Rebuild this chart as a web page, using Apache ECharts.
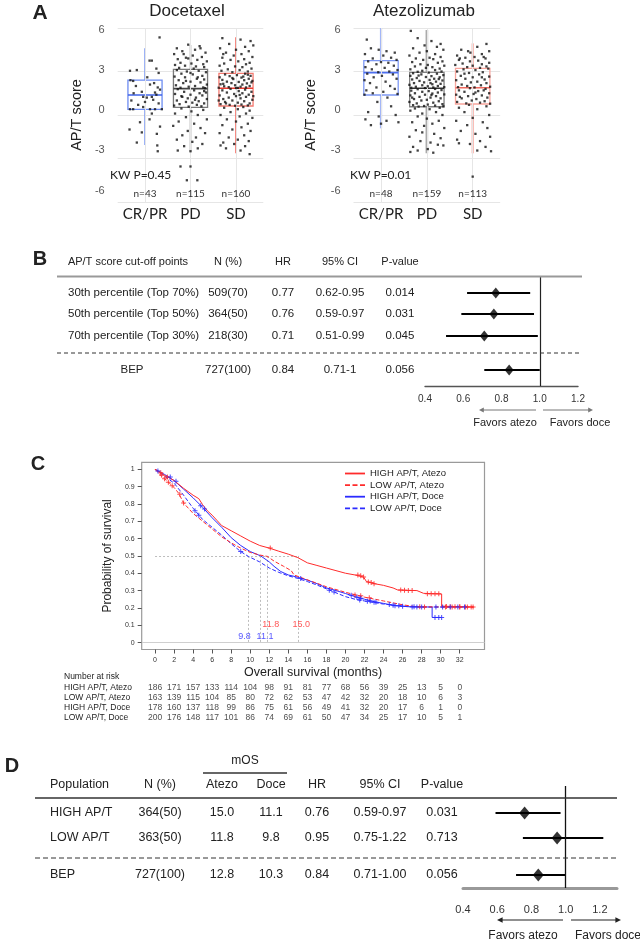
<!DOCTYPE html>
<html><head><meta charset="utf-8">
<script src="https://cdn.jsdelivr.net/npm/echarts@6.0.0/dist/echarts.min.js"></script>
<style>html,body{margin:0;padding:0;background:#fff;}#chart{width:640px;height:944px;}</style>
</head><body><div id="chart"></div>
<script>
// ================= DATA =================
// Panel A
const boxCategories = ['CR/PR', 'PD', 'SD'];
const boxTickLabels = [6, 3, 0, -3, -6];
const doceCounts = ['n=43', 'n=115', 'n=160'];
const atezoCounts = ['n=48', 'n=159', 'n=113'];
const doceKW = 'KW P=0.45';
const atezoKW = 'KW P=0.01';
// [lower whisker, Q1, median, Q3, upper whisker]
const doceBoxStats = [[-2.07, 0.39, 1.38, 2.41, 4.6], [-2.53, 0.53, 1.82, 3.15, 4.83], [-2.64, 0.62, 1.84, 2.87, 5.36]];
const atezoBoxStats = [[-0.92, 1.38, 2.92, 3.75, 6.0], [-2.64, 0.57, 1.84, 2.94, 5.86], [-2.64, 0.76, 1.88, 3.22, 4.94]];
// jittered points: [jitter offset, AP/T score]
const docePtsCRPR = [[0.32,5.35],[0.1,3.75],[0.15,3.75],[-0.33,3.05],[-0.18,3.1],[0.3,2.9],[-0.32,2.4],[-0.26,2.35],[0.11,2.1],[0.33,1.75],[-0.07,1.6],[0.22,1.55],[0.25,1.4],[-0.04,1.25],[0.04,1.2],[0.15,1.25],[0.18,1.05],[0.0,0.9],[-0.04,0.55],[-0.33,0.4],[-0.26,0.4],[0.11,0.4],[0.22,0.4],[0.37,0.4],[0.1,-0.3],[-0.11,-0.5],[-0.34,-1.0],[0.33,-0.8],[0.26,-1.3],[-0.07,-1.2],[0.27,-2.1],[-0.18,-1.9],[0.05,2.6],[-0.2,2.0],[0.28,1.9],[-0.3,1.0],[0.3,0.8],[-0.15,0.7],[-0.25,1.5],[0.2,2.2],[0.25,3.2],[0.28,-2.5],[0.15,0.1]];
const docePtsPD = [[-0.05,4.85],[0.2,4.75],[-0.3,4.6],[0.1,4.5],[-0.18,4.4],[0.33,4.3],[-0.36,4.2],[0.05,4.1],[0.25,4.0],[-0.1,3.95],[-0.28,3.85],[0.15,3.8],[0.36,3.7],[-0.22,3.6],[0.02,3.55],[0.28,3.5],[-0.34,3.45],[-0.12,3.4],[0.12,3.35],[0.3,3.3],[-0.25,3.25],[0.07,3.2],[-0.05,3.9],[0.22,4.6],[-0.15,4.2],
[-0.3,3.1],[0.18,3.05],[-0.08,3.0],[0.34,2.95],[-0.2,2.85],[0.05,2.8],[0.26,2.7],[-0.35,2.65],[-0.12,2.6],[0.14,2.5],[0.3,2.45],[-0.26,2.4],[0.0,2.3],[0.22,2.25],[-0.16,2.2],[0.36,2.1],[-0.32,2.05],[0.1,2.0],[-0.04,1.95],[0.28,1.9],[-0.22,1.88],[0.16,2.6],[-0.1,2.35],[0.32,1.85],[0.0,2.9],
[-0.28,1.78],[0.08,1.7],[0.3,1.65],[-0.14,1.6],[0.2,1.5],[-0.34,1.45],[0.0,1.4],[0.26,1.35],[-0.2,1.3],[0.12,1.2],[-0.06,1.15],[0.36,1.1],[-0.3,1.0],[0.18,0.95],[-0.1,0.9],[0.04,0.85],[0.3,0.8],[-0.24,0.75],[0.14,0.7],[-0.36,0.65],[0.24,0.6],[-0.04,0.58],[0.1,1.05],[-0.18,1.25],[0.34,1.55],
[-0.2,0.45],[0.28,0.35],[0.02,0.25],[-0.34,0.1],[0.16,0.0],[-0.1,-0.15],[0.36,-0.3],[-0.26,-0.45],[0.08,-0.6],[-0.38,-0.75],[0.22,-0.9],[-0.06,-1.1],[0.32,-1.25],[-0.18,-1.4],[0.12,-1.55],[-0.3,-1.7],[0.04,-1.85],[0.26,-2.0],[-0.14,-2.15],[0.16,-2.3],[-0.28,-2.45],[0.0,-2.5],
[-0.22,-3.55],[0.0,-3.55],[-0.08,-4.5],[0.15,-4.5]];
const docePtsSD = [[-0.3,5.3],[0.1,5.2],[0.32,5.1],[-0.15,4.9],[0.2,4.7],[-0.35,4.6],[0.0,4.5],[0.28,4.4],[-0.22,4.3],[0.12,4.2],[-0.05,4.1],[0.36,4.0],[-0.3,3.95],[0.18,3.85],[-0.12,3.8],[0.05,3.7],[0.3,3.6],[-0.26,3.55],[0.22,3.5],[-0.36,3.4],[-0.02,3.35],[0.14,3.3],[0.34,3.2],[-0.18,3.15],[0.08,3.1],[-0.32,3.05],[0.26,3.0],[-0.08,2.95],[0.38,4.8],[-0.28,4.2],
[0.2,2.85],[-0.24,2.8],[0.02,2.75],[0.32,2.7],[-0.14,2.68],[-0.36,2.6],[0.12,2.58],[0.28,2.5],[-0.06,2.48],[-0.3,2.42],[0.18,2.4],[0.36,2.35],[-0.2,2.3],[0.06,2.28],[-0.1,2.2],[0.24,2.18],[-0.34,2.12],[0.14,2.1],[-0.02,2.05],[0.3,2.0],[-0.26,1.98],[0.1,1.95],[-0.16,1.92],[0.22,1.9],[-0.38,1.88],[0.04,1.87],[0.34,2.25],[-0.08,2.55],[0.16,2.65],[-0.28,2.15],[0.0,1.86],[0.26,2.78],
[-0.12,1.8],[0.2,1.75],[-0.3,1.7],[0.06,1.65],[0.34,1.6],[-0.2,1.55],[0.14,1.5],[-0.04,1.45],[0.28,1.4],[-0.36,1.35],[0.0,1.3],[0.22,1.25],[-0.16,1.2],[0.1,1.15],[-0.28,1.1],[0.36,1.05],[-0.08,1.0],[0.18,0.95],[-0.24,0.9],[0.04,0.85],[0.3,0.8],[-0.34,0.75],[0.12,0.72],[-0.14,0.7],[0.26,0.66],[-0.02,0.64],[0.38,1.3],[-0.38,1.0],[0.08,1.38],[-0.22,0.8],
[0.16,0.55],[-0.26,0.5],[0.04,0.4],[0.3,0.3],[-0.12,0.2],[0.22,0.1],[-0.34,0.0],[0.08,-0.1],[0.36,-0.2],[-0.2,-0.3],[0.0,-0.45],[0.26,-0.6],[-0.3,-0.7],[0.12,-0.85],[-0.08,-1.0],[0.32,-1.1],[-0.36,-1.25],[0.18,-1.4],[-0.16,-1.55],[0.04,-1.7],[0.28,-1.8],[-0.28,-1.9],[-0.04,-2.0],[0.2,-2.15],[-0.22,-2.3],[0.1,-2.45],[0.3,-2.7],[-0.34,-2.1]];
const atezoPtsCRPR = [[-0.31,5.2],[-0.22,4.6],[-0.05,4.5],[0.12,4.4],[0.3,4.3],[-0.35,4.2],[0.05,4.1],[0.22,3.95],[-0.18,3.9],[0.34,3.8],[-0.28,3.7],[0.0,3.65],[0.16,3.6],[-0.1,3.5],[0.28,3.4],[-0.34,3.3],[0.08,3.25],[-0.2,3.15],[0.36,3.1],[0.18,3.0],[-0.06,2.95],[-0.3,2.85],[0.26,2.8],[0.02,2.7],[-0.16,2.6],[0.34,2.5],[-0.36,2.4],[0.1,2.3],[-0.24,2.2],[0.2,2.0],[-0.1,1.9],[0.3,1.8],[-0.32,1.7],[0.05,1.6],[-0.18,1.5],[0.36,1.45],[-0.36,1.4],[0.14,1.2],[-0.08,0.9],[0.22,0.6],[-0.28,0.2],[0.32,0.0],[-0.05,-0.1],[-0.34,-0.3],[0.12,-0.4],[0.38,-0.5],[-0.22,-0.7],[0.0,-0.6]];
const atezoPtsPD = [[-0.35,5.8],[-0.2,5.3],[0.1,5.1],[0.3,4.9],[-0.05,4.8],[0.22,4.7],[-0.3,4.6],[0.36,4.5],[0.0,4.4],[-0.16,4.3],[0.18,4.2],[-0.38,4.1],[0.3,4.0],[0.06,3.95],[-0.24,3.9],[0.14,3.85],[-0.08,3.8],[0.34,3.7],[-0.32,3.65],[0.24,3.6],[-0.14,3.5],[0.02,3.45],[0.38,3.4],[-0.26,3.35],[0.12,3.3],[-0.02,3.25],[0.28,3.2],[-0.36,3.15],[0.18,3.1],[-0.1,3.05],[0.32,3.0],[-0.2,2.98],
[0.04,2.92],[-0.3,2.88],[0.22,2.85],[-0.12,2.8],[0.36,2.75],[-0.36,2.7],[0.1,2.68],[-0.02,2.62],[0.28,2.6],[-0.22,2.55],[0.16,2.5],[-0.32,2.45],[0.06,2.42],[0.34,2.38],[-0.16,2.35],[0.2,2.3],[-0.06,2.25],[-0.28,2.2],[0.3,2.15],[0.12,2.12],[-0.38,2.08],[-0.1,2.05],[0.24,2.0],[0.02,1.98],[-0.24,1.95],[0.38,1.92],[0.14,1.9],[-0.34,1.88],[-0.04,1.86],[0.26,2.48],[-0.18,2.72],[0.08,2.2],
[0.18,1.8],[-0.2,1.78],[0.32,1.72],[-0.34,1.68],[0.04,1.65],[-0.1,1.6],[0.24,1.55],[-0.26,1.5],[0.12,1.48],[0.38,1.42],[-0.04,1.4],[-0.36,1.35],[0.2,1.3],[-0.16,1.25],[0.08,1.2],[0.3,1.15],[-0.28,1.1],[0.0,1.05],[-0.12,1.0],[0.26,0.95],[-0.38,0.9],[0.14,0.85],[-0.22,0.8],[0.34,0.75],[0.02,0.72],[-0.3,0.68],[0.18,0.65],[-0.06,0.62],[0.36,0.6],[-0.18,0.58],[0.1,1.38],[-0.32,1.2],
[0.28,0.5],[-0.26,0.45],[0.06,0.4],[-0.36,0.3],[0.2,0.2],[-0.1,0.1],[0.34,0.0],[-0.2,-0.1],[0.0,-0.25],[0.26,-0.4],[-0.32,-0.5],[0.12,-0.6],[-0.06,-0.75],[0.38,-0.9],[-0.24,-1.05],[0.16,-1.3],[-0.38,-1.5],[0.3,-1.6],[-0.14,-1.8],[0.08,-1.9],[0.24,-2.05],[-0.3,-2.2],[0.02,-2.35],[-0.2,-2.45],[0.36,-2.1],[-0.36,-2.55],[0.14,-2.6],[-0.1,-1.2]];
const atezoPtsSD = [[0.3,4.9],[0.1,4.7],[-0.25,4.5],[0.36,4.4],[-0.05,4.3],[0.2,4.2],[-0.34,4.1],[0.04,4.0],[-0.16,3.95],[0.28,3.9],[-0.3,3.8],[0.12,3.75],[-0.06,3.7],[0.36,3.6],[-0.22,3.55],[0.2,3.5],[-0.38,3.45],[0.0,3.4],[0.3,3.35],[-0.12,3.3],[0.16,3.25],[-0.28,3.9],[0.24,4.0],[-0.1,4.4],
[0.34,3.2],[-0.2,3.15],[0.06,3.1],[-0.34,3.0],[0.22,2.95],[-0.08,2.9],[0.14,2.8],[-0.26,2.7],[0.36,2.65],[0.0,2.6],[-0.16,2.5],[0.26,2.45],[-0.36,2.4],[0.1,2.3],[-0.04,2.25],[0.3,2.2],[-0.24,2.1],[0.18,2.05],[-0.12,2.0],[0.38,1.95],[-0.32,1.92],[0.04,1.9],[0.2,2.6],[-0.18,2.85],
[-0.06,1.85],[0.28,1.8],[-0.3,1.7],[0.12,1.65],[-0.18,1.6],[0.36,1.5],[0.02,1.45],[-0.36,1.4],[0.2,1.35],[-0.1,1.3],[0.32,1.2],[-0.24,1.15],[0.08,1.1],[-0.02,1.0],[0.26,0.95],[-0.34,0.9],[0.16,0.85],[-0.14,0.8],[0.38,0.78],[-0.28,1.25],[0.06,1.55],[0.24,1.7],
[-0.08,0.7],[0.3,0.6],[-0.3,0.5],[0.1,0.4],[-0.18,0.2],[0.36,0.0],[0.0,-0.2],[-0.36,-0.4],[0.22,-0.5],[-0.12,-0.7],[0.32,-0.9],[-0.26,-1.1],[0.06,-1.3],[0.38,-1.5],[-0.34,-1.7],[0.16,-1.8],[-0.06,-2.0],[0.28,-2.2],[-0.3,-1.95],[0.1,-2.45],[0.4,-2.5],[0.0,-4.25]];

// Panel B
const bLabels = ['30th percentile (Top 70%)', '50th percentile (Top 50%)', '70th percentile (Top 30%)', 'BEP'];
const bN = ['509(70)', '364(50)', '218(30)', '727(100)'];
const bHR = [0.77, 0.76, 0.71, 0.84];
const bLow = [0.62, 0.59, 0.51, 0.71];
const bHigh = [0.95, 0.97, 0.99, 1.0];
const bCI = ['0.62-0.95', '0.59-0.97', '0.51-0.99', '0.71-1'];
const bP = ['0.014', '0.031', '0.045', '0.056'];
const bHeaders = ['AP/T score cut-off points', 'N (%)', 'HR', '95% CI', 'P-value'];

// Panel C
const kmNames = ['HIGH AP/T, Atezo', 'LOW AP/T, Atezo', 'HIGH AP/T, Doce', 'LOW AP/T, Doce'];
const kmHighAtezo = [[0,1],[1,0.965],[2,0.935],[3,0.89],[4,0.85],[4.6,0.83],[5,0.795],[5.5,0.76],[6,0.735],[6.5,0.705],[7,0.675],[8,0.645],[9,0.615],[10,0.585],[11,0.56],[12,0.545],[13,0.527],[14,0.51],[15,0.49],[16,0.46],[17,0.445],[18,0.43],[19,0.415],[20,0.4],[21,0.39],[21.9,0.378],[22.2,0.352],[23,0.34],[24,0.33],[25,0.315],[25.5,0.303],[27.5,0.3],[28.2,0.284],[30.1,0.28],[30.1,0.21],[33.5,0.205]];
const kmLowAtezo = [[0,1],[0.5,0.97],[1,0.945],[1.5,0.92],[2,0.895],[2.5,0.86],[3,0.805],[3.5,0.775],[4,0.745],[5,0.7],[6,0.655],[7,0.61],[8,0.575],[9,0.545],[10,0.52],[11,0.505],[11.8,0.497],[12.5,0.47],[13.5,0.44],[14.3,0.415],[14.6,0.39],[15.5,0.372],[16.5,0.352],[18,0.322],[20,0.29],[22,0.262],[24,0.24],[26,0.218],[27.5,0.206],[33.4,0.205]];
const kmHighDoce = [[0,1],[1,0.97],[2,0.935],[3,0.885],[4,0.835],[5,0.78],[6,0.72],[7,0.665],[8,0.605],[9,0.56],[10,0.525],[11.1,0.5],[12,0.465],[12.5,0.44],[13.2,0.41],[14,0.39],[15,0.377],[16,0.36],[17,0.34],[18,0.315],[19,0.3],[20,0.283],[21,0.265],[22,0.25],[23,0.236],[24,0.226],[25,0.215],[26.5,0.207],[29.1,0.205],[29.1,0.145],[30.1,0.145]];
const kmLowDoce = [[0,1],[1,0.96],[2,0.92],[3,0.85],[4,0.775],[5,0.71],[6,0.665],[7,0.62],[8,0.57],[9,0.525],[9.8,0.497],[11,0.465],[12,0.43],[13,0.405],[14,0.385],[15,0.37],[16,0.352],[17,0.332],[18,0.31],[19,0.287],[20,0.265],[21,0.25],[22,0.24],[24,0.222],[26,0.21],[28,0.205],[33.1,0.205]];
const censorHighAtezo = [[0.6,0.98],[1.3,0.955],[12.1,0.545],[21.3,0.39],[21.6,0.385],[21.9,0.378],[22.4,0.35],[22.7,0.346],[23.0,0.34],[25.8,0.303],[26.2,0.302],[26.6,0.301],[27.0,0.3],[28.6,0.282],[29.0,0.282],[29.4,0.282],[29.8,0.282],[30.6,0.208],[31.0,0.207],[31.5,0.207],[32.0,0.206],[32.6,0.205],[33.2,0.205]];
const censorLowAtezo = [[0.7,0.965],[1.0,0.945],[1.4,0.925],[1.8,0.905],[2.6,0.855],[3.0,0.805],[21.0,0.275],[21.6,0.27],[22.5,0.258],[27.8,0.206],[28.3,0.205],[30.5,0.205],[31.2,0.205],[32.0,0.205],[32.8,0.205],[33.4,0.205]];
const censorHighDoce = [[1.6,0.955],[2.2,0.93],[4.8,0.79],[5.2,0.77],[20.6,0.273],[21.2,0.262],[21.6,0.256],[22.6,0.24],[23.2,0.233],[24.6,0.22],[25.2,0.213],[26.0,0.21],[27.0,0.205],[27.5,0.205],[29.4,0.145],[29.8,0.145],[30.1,0.145]];
const censorLowDoce = [[0.3,0.99],[4.2,0.76],[4.6,0.735],[9.0,0.525],[15.3,0.37],[18.3,0.302],[18.8,0.292],[21.5,0.246],[22.3,0.238],[23.0,0.232],[25.0,0.216],[25.6,0.212],[27.2,0.207],[28.0,0.205],[29.5,0.205],[30.2,0.205],[31.0,0.205],[31.8,0.205],[32.5,0.205]];
const mediansAtezo = [11.8, 15.0];
const mediansDoce = [9.8, 11.1];
const kmTickTimes = [0,2,4,6,8,10,12,14,16,18,20,22,24,26,28,30,32];
const kmTickSurv = [0,0.1,0.2,0.3,0.4,0.5,0.6,0.7,0.8,0.9,1];
const riskTimes = [0,2,4,6,8,10,12,14,16,18,20,22,24,26,28,30,32];
const riskHighAtezo = [186,171,157,133,114,104,98,91,81,77,68,56,39,25,13,5,0];
const riskLowAtezo = [163,139,115,104,85,80,72,62,53,47,42,32,20,18,10,6,3];
const riskHighDoce = [178,160,137,118,99,86,75,61,56,49,41,32,20,17,6,1,0];
const riskLowDoce = [200,176,148,117,101,86,74,69,61,50,47,34,25,17,10,5,1];

// Panel D
const dPop = ['HIGH AP/T', 'LOW AP/T', 'BEP'];
const dN = ['364(50)', '363(50)', '727(100)'];
const dAtezo = ['15.0', '11.8', '12.8'];
const dDoce = ['11.1', '9.8', '10.3'];
const dHR = [0.76, 0.95, 0.84];
const dLow = [0.59, 0.75, 0.71];
const dHigh = [0.97, 1.22, 1.00];
const dCI = ['0.59-0.97', '0.75-1.22', '0.71-1.00'];
const dP = ['0.031', '0.713', '0.056'];
const dHeaders = ['Population', 'N (%)', 'Atezo', 'Doce', 'HR', '95% CI', 'P-value'];

// ================= LAYOUT / STYLE =================
const SANS = '"Liberation Sans", Arial, sans-serif';
const CAL = 'Lato, "Liberation Sans", sans-serif';
const RED = '#ff2b2b', BLUE = '#2b2bff';
const GA = {left: 117.7, top: 28, width: 145.6, height: 174};
const GB = {left: 353.5, top: 28, width: 146.7, height: 174};
const labelAxisRange = [-6.86, 6.13];   // tick-label scale of panel A as drawn in the source
const doceStyle = [
  {box: '#6d8cf2', med: '#3f63e8', wh: '#7b98f3', ww: 1.5},
  {box: '#7a7a7a', med: '#444444', wh: '#8a8a8a', ww: 1.5},
  {box: '#f47a70', med: '#ee3b30', wh: '#f26358', ww: 1.5}];
const atezoStyle = [
  {box: '#7d98f4', med: '#4d6ff0', wh: '#a3b6f7', ww: 2.2},
  {box: '#808080', med: '#333333', wh: '#ababab', ww: 2.6},
  {box: '#f9a59c', med: '#f26a5f', wh: '#f9aca4', ww: 2.2}];
const FB = {left: 425, top: 276.5, width: 153, height: 109.5};
const bRowY = [293, 314, 336, 370];
const bColX = [128, 228, 283, 340, 400];
const KM = {left: 141.7, top: 462.3, width: 342.8, height: 187.2};
const RISK = {top: 683, height: 40};
const FD = {left: 463, top: 786, width: 154, height: 102};
const dRowY = [813, 838, 875];
const dColX = [50, 160, 222, 271, 317, 380, 442];

// ================= HELPERS =================
function T(text, x, y, size, o) {
  o = o || {};
  return {type: 'text', x: x, y: y, silent: true, z: 50,
    style: {text: text, fill: o.color || '#222', fontSize: size, fontFamily: o.font || SANS,
      fontWeight: o.weight || 'normal', align: o.align || 'center', verticalAlign: 'middle'}};
}
function L(x1, y1, x2, y2, color, w, dash) {
  return {type: 'line', silent: true, z: 40, shape: {x1: x1, y1: y1, x2: x2, y2: y2},
    style: {stroke: color, lineWidth: w, lineDash: dash || null}};
}
function arrow(x1, x2, y, color, w, head) {
  const dir = x2 < x1 ? -1 : 1;
  return [L(x1, y, x2 - dir * head, y, color, w),
    {type: 'polygon', silent: true, z: 40, shape: {points: [[x2, y], [x2 - dir * head * 1.6, y - head * 0.8], [x2 - dir * head * 1.6, y + head * 0.8]]}, style: {fill: color}}];
}
function boxRenderer(styles) {
  return function (params, api) {
    const s = styles[params.dataIndex];
    const x = api.value(0);
    const P = k => api.coord([x, api.value(k)]);
    const pMin = P(1), pQ1 = P(2), pMed = P(3), pQ3 = P(4), pMax = P(5);
    const hw = api.size([0.75, 0])[0] / 2;
    return {type: 'group', children: [
      {type: 'line', shape: {x1: pMin[0], y1: pMin[1], x2: pQ1[0], y2: pQ1[1]}, style: {stroke: s.wh, lineWidth: s.ww}},
      {type: 'line', shape: {x1: pQ3[0], y1: pQ3[1], x2: pMax[0], y2: pMax[1]}, style: {stroke: s.wh, lineWidth: s.ww}},
      {type: 'rect', shape: {x: pQ1[0] - hw, y: pQ3[1], width: 2 * hw, height: pQ1[1] - pQ3[1]}, style: {fill: 'none', stroke: s.box, lineWidth: 1.3}},
      {type: 'line', shape: {x1: pMed[0] - hw, y1: pMed[1], x2: pMed[0] + hw, y2: pMed[1]}, style: {stroke: s.med, lineWidth: 1.6}}
    ]};
  };
}
function ciRenderer(lw) {
  return function (params, api) {
    const p1 = api.coord([api.value(0), api.value(2)]);
    const p2 = api.coord([api.value(1), api.value(2)]);
    return {type: 'line', shape: {x1: p1[0], y1: p1[1], x2: p2[0], y2: p2[1]}, style: {stroke: '#000', lineWidth: lw}};
  };
}
const catX = (g, i) => g.left + (i + 1 - 0.4) * g.width / 3.2;

// ================= AXES =================
function boxXAxis(gi) {
  return {gridIndex: gi, type: 'value', min: 0.4, max: 3.6,
    axisLine: {show: false, onZero: false}, axisTick: {show: false}, splitLine: {show: false},
    axisLabel: {customValues: [1, 2, 3], formatter: v => boxCategories[Math.round(v) - 1],
      fontSize: 15, fontFamily: CAL, color: '#222', margin: 5}};
}
function boxYAxis(gi, gap) {
  return {gridIndex: gi, type: 'value', min: -6, max: 6, interval: 3,
    name: 'AP/T score', nameLocation: 'middle', nameGap: gap,
    nameTextStyle: {fontSize: 14.5, fontFamily: SANS, color: '#222'},
    axisLine: {show: false, onZero: false}, axisTick: {show: false},
    splitLine: {lineStyle: {color: '#e6e6e6', width: 1}},
    axisLabel: {show: false}};
}
function boxLabelAxis(gi) {
  return {gridIndex: gi, type: 'value', position: 'left', min: labelAxisRange[0], max: labelAxisRange[1],
    axisLine: {show: false, onZero: false}, axisTick: {show: false}, splitLine: {show: false},
    axisLabel: {customValues: boxTickLabels, fontSize: 11, fontFamily: SANS, color: '#555', margin: 13}};
}
const vGrid = {silent: true, symbol: ['none', 'none'], label: {show: false},
  lineStyle: {color: '#e6e6e6', width: 1, type: 'solid'}, data: [{xAxis: 1}, {xAxis: 2}, {xAxis: 3}], animation: false};

const xAxes = [
  boxXAxis(0), boxXAxis(1),
  {gridIndex: 2, type: 'value', position: 'bottom', min: 0.4, max: 1.2, interval: 0.2,
    axisLine: {onZero: false, lineStyle: {color: '#555', width: 1.4}}, axisTick: {show: false}, splitLine: {show: false},
    axisLabel: {formatter: v => v.toFixed(1), fontSize: 10, fontFamily: SANS, color: '#333', margin: 8}},
  {gridIndex: 3, type: 'value', position: 'bottom', min: -1.4, max: 34.6,
    name: 'Overall survival (months)', nameLocation: 'middle', nameGap: 17,
    nameTextStyle: {fontSize: 12.5, fontFamily: SANS, color: '#222'},
    axisLine: {show: false, onZero: false}, splitLine: {show: false},
    axisTick: {show: true, customValues: kmTickTimes, length: 4, lineStyle: {color: '#555'}},
    axisLabel: {customValues: kmTickTimes, fontSize: 7, fontFamily: SANS, color: '#333', margin: 7}},
  {gridIndex: 4, type: 'value', min: -1.4, max: 34.6, show: false},
  {gridIndex: 5, type: 'value', position: 'bottom', min: 0.4, max: 1.3, interval: 0.2,
    axisLine: {onZero: false, lineStyle: {color: '#999', width: 3}}, axisTick: {show: false}, splitLine: {show: false},
    axisLabel: {formatter: v => v.toFixed(1), showMaxLabel: false, fontSize: 11, fontFamily: SANS, color: '#333', margin: 16}}
];
const yAxes = [
  boxYAxis(0, 33), boxYAxis(1, 35),
  {gridIndex: 2, type: 'value', inverse: true, min: 0, max: FB.height, show: false},
  {gridIndex: 3, type: 'value', position: 'left', min: -0.04, max: 1.04,
    name: 'Probability of survival', nameLocation: 'middle', nameGap: 27,
    nameTextStyle: {fontSize: 12, fontFamily: SANS, color: '#222'},
    axisLine: {show: false, onZero: false}, splitLine: {show: false},
    axisTick: {show: true, customValues: kmTickSurv, length: 4, lineStyle: {color: '#555'}},
    axisLabel: {customValues: kmTickSurv, formatter: v => (v === 0 ? '0' : v === 1 ? '1' : v.toFixed(1)),
      fontSize: 7, fontFamily: SANS, color: '#333', margin: 7}},
  {gridIndex: 4, type: 'category', inverse: true, data: kmNames,
    axisLine: {show: false, onZero: false}, axisTick: {show: false}, splitLine: {show: false},
    axisLabel: {interval: 0, align: 'left', margin: KM.left - 64, fontSize: 8.5, fontFamily: SANS, color: '#222'}},
  {gridIndex: 5, type: 'value', inverse: true, min: 0, max: FD.height, show: false},
  boxLabelAxis(0), boxLabelAxis(1)
];
const grids = [
  {left: GA.left, top: GA.top, width: GA.width, height: GA.height},
  {left: GB.left, top: GB.top, width: GB.width, height: GB.height},
  {left: FB.left, top: FB.top, width: FB.width, height: FB.height},
  {left: KM.left, top: KM.top, width: KM.width, height: KM.height, show: true, borderColor: '#9a9a9a', borderWidth: 1.2, backgroundColor: 'transparent'},
  {left: KM.left, top: RISK.top, width: KM.width, height: RISK.height},
  {left: FD.left, top: FD.top, width: FD.width, height: FD.height}
];

// ================= SERIES =================
const series = [];
function addBoxPanel(gi, stats, styles, ptsGroups) {
  series.push({type: 'custom', xAxisIndex: gi, yAxisIndex: gi, renderItem: boxRenderer(styles),
    data: stats.map((s, i) => [i + 1].concat(s)), encode: {x: 0, y: [1, 2, 3, 4, 5]}, z: 2, silent: true, markLine: vGrid});
  ptsGroups.forEach((pts, i) => {
    series.push({type: 'scatter', xAxisIndex: gi, yAxisIndex: gi, symbol: 'rect', symbolSize: 2.3,
      itemStyle: {color: '#111'}, z: 5, silent: true, data: pts.map(p => [i + 1 + p[0], p[1]])});
  });
}
addBoxPanel(0, doceBoxStats, doceStyle, [docePtsCRPR, docePtsPD, docePtsSD]);
addBoxPanel(1, atezoBoxStats, atezoStyle, [atezoPtsCRPR, atezoPtsPD, atezoPtsSD]);
// empty series so the tick-label axes are bound to their grids
series.push({type: 'scatter', xAxisIndex: 0, yAxisIndex: 6, data: [], silent: true});
series.push({type: 'scatter', xAxisIndex: 1, yAxisIndex: 7, data: [], silent: true});

// Panel B forest
series.push({type: 'custom', xAxisIndex: 2, yAxisIndex: 2, renderItem: ciRenderer(1.8), silent: true,
  data: bHR.map((h, i) => [bLow[i], bHigh[i], bRowY[i] - FB.top]), encode: {x: [0, 1], y: 2},
  markLine: {silent: true, symbol: ['none', 'none'], label: {show: false}, lineStyle: {color: '#222', width: 1.2, type: 'solid'}, data: [{xAxis: 1.0}]}});
series.push({type: 'scatter', xAxisIndex: 2, yAxisIndex: 2, symbol: 'diamond', symbolSize: [9, 11], itemStyle: {color: '#000'}, silent: true,
  data: bHR.map((h, i) => [h, bRowY[i] - FB.top]), z: 6});

// Panel C KM
const kmSets = [kmHighAtezo, kmLowAtezo, kmHighDoce, kmLowDoce];
const kmCensor = [censorHighAtezo, censorLowAtezo, censorHighDoce, censorLowDoce];
const kmColor = [RED, RED, BLUE, BLUE];
const kmDash = ['solid', [4, 2], 'solid', [4, 2]];
const plusPath = 'path://M4,0H6V4H10V6H6V10H4V6H0V4H4Z';
const iconSolid = 'path://M0,0L0,0M20,10L20,10M0,4.1H20V5.9H0Z';
const iconDash = 'path://M0,0L0,0M20,10L20,10M0,4.1H5V5.9H0ZM7.5,4.1H12.5V5.9H7.5ZM15,4.1H20V5.9H15Z';
const medianLines = [];
const allMedians = mediansAtezo.concat(mediansDoce);
const medMax = Math.max.apply(null, allMedians);
medianLines.push([{coord: [0, 0.5]}, {coord: [medMax, 0.5]}]);
allMedians.forEach(m => medianLines.push([{coord: [m, 0.5]}, {coord: [m, 0]}]));
kmSets.forEach((d, i) => {
  const s = {type: 'line', name: kmNames[i], xAxisIndex: 3, yAxisIndex: 3, data: d, symbol: 'none', showSymbol: false,
    lineStyle: {color: kmColor[i], width: 1, type: kmDash[i]}, itemStyle: {color: kmColor[i]}, silent: true, z: 4 - i * 0.1};
  if (i === 0) {
    s.markLine = {silent: true, symbol: ['none', 'none'], label: {show: false}, z: 1,
      lineStyle: {color: '#bdbdbd', width: 1, type: [2, 2]},
      data: medianLines.concat([{yAxis: 0, lineStyle: {color: '#cfcfcf', type: 'solid', width: 1}}])};
  }
  series.push(s);
  series.push({type: 'scatter', name: 'censor' + i, xAxisIndex: 3, yAxisIndex: 3, data: kmCensor[i], symbol: plusPath, symbolSize: 5,
    itemStyle: {color: kmColor[i], opacity: 0.85}, silent: true, z: 4});
});
const medLabelOffsets = {atezo: [[0.35, 0.104], [0.35, 0.104]], doce: [[-0.4, 0.036], [0.45, 0.036]]};
series.push({type: 'scatter', xAxisIndex: 3, yAxisIndex: 3, symbolSize: 0, silent: true, z: 6,
  data: mediansAtezo.map((m, i) => ({value: [m + medLabelOffsets.atezo[i][0], medLabelOffsets.atezo[i][1]], name: m.toFixed(1)}))
    .concat(mediansDoce.map((m, i) => ({value: [m + medLabelOffsets.doce[i][0], medLabelOffsets.doce[i][1]], name: m.toFixed(1),
      label: {color: BLUE}}))),
  label: {show: true, position: 'inside', formatter: p => p.name, color: RED, fontSize: 9, fontFamily: SANS}});

// risk table
const riskRows = [riskHighAtezo, riskLowAtezo, riskHighDoce, riskLowDoce];
const riskData = [];
riskRows.forEach((row, r) => row.forEach((n, i) => riskData.push([riskTimes[i], r, n])));
series.push({type: 'scatter', xAxisIndex: 4, yAxisIndex: 4, symbolSize: 0, silent: true, data: riskData,
  label: {show: true, position: 'inside', formatter: p => String(p.value[2]), fontSize: 8.5, fontFamily: SANS, color: '#222'}});

// Panel D forest
series.push({type: 'custom', xAxisIndex: 5, yAxisIndex: 5, renderItem: ciRenderer(2.2), silent: true,
  data: dHR.map((h, i) => [dLow[i], dHigh[i], dRowY[i] - FD.top]), encode: {x: [0, 1], y: 2},
  markLine: {silent: true, symbol: ['none', 'none'], label: {show: false}, lineStyle: {color: '#111', width: 1.3, type: 'solid'}, data: [{xAxis: 1.0}]}});
series.push({type: 'scatter', xAxisIndex: 5, yAxisIndex: 5, symbol: 'diamond', symbolSize: [11, 13], itemStyle: {color: '#000'}, silent: true,
  data: dHR.map((h, i) => [h, dRowY[i] - FD.top]), z: 6});

// ================= GRAPHIC TEXT / RULES =================
const g = [];
// Panel A
g.push(T('A', 40, 13, 21, {weight: 'bold'}));
g.push(T('Docetaxel', 187, 11, 17));
g.push(T('Atezolizumab', 424, 11, 17));
g.push(T(doceKW, 110, 175, 12, {align: 'left', font: CAL}));
g.push(T(atezoKW, 350, 175, 12, {align: 'left', font: CAL}));
doceCounts.forEach((t, i) => g.push(T(t, catX(GA, i), 194, 10, {font: CAL, color: '#333'})));
atezoCounts.forEach((t, i) => g.push(T(t, catX(GB, i), 194, 10, {font: CAL, color: '#333'})));
// Panel B
g.push(T('B', 40, 259, 20, {weight: 'bold'}));
bHeaders.forEach((h, i) => g.push(T(h, bColX[i], 262, 11)));
g.push(L(57, 276.5, 582, 276.5, '#999', 2));
g.push(L(57, 353, 580, 353, '#333', 1, [4, 3]));
bLabels.forEach((lab, i) => {
  const y = bRowY[i];
  if (i < 3) g.push(T(lab, 68, y, 11.5, {align: 'left'})); else g.push(T(lab, 132, y, 11.5));
  g.push(T(bN[i], bColX[1], y, 11.5));
  g.push(T(bHR[i].toFixed(2), bColX[2], y, 11.5));
  g.push(T(bCI[i], bColX[3], y, 11.5));
  g.push(T(bP[i], bColX[4], y, 11.5));
});
arrow(536, 479, 410, '#777', 1, 3).forEach(e => g.push(e));
arrow(543, 593, 410, '#777', 1, 3).forEach(e => g.push(e));
g.push(T('Favors atezo', 505, 423, 11));
g.push(T('Favors doce', 580, 423, 11));
// Panel C
g.push(T('C', 38, 464, 20, {weight: 'bold'}));
g.push(T('Number at risk', 64, 676.5, 8.5, {align: 'left'}));
// Panel D
g.push(T('D', 12, 766, 20, {weight: 'bold'}));
g.push(T('mOS', 245, 761, 12));
g.push(L(203, 773, 287, 773, '#333', 1.3));
dHeaders.forEach((h, i) => g.push(T(h, dColX[i], 785, 12.5, {align: i === 0 ? 'left' : 'center'})));
g.push(L(35, 798, 617, 798, '#333', 1.5));
g.push(L(35, 858, 617, 858, '#333', 1, [5, 3]));
dPop.forEach((p, i) => {
  const y = dRowY[i];
  g.push(T(p, dColX[0], y, 12.5, {align: 'left'}));
  g.push(T(dN[i], dColX[1], y, 12.5));
  g.push(T(dAtezo[i], dColX[2], y, 12.5));
  g.push(T(dDoce[i], dColX[3], y, 12.5));
  g.push(T(dHR[i].toFixed(2), dColX[4], y, 12.5));
  g.push(T(dCI[i], dColX[5], y, 12.5));
  g.push(T(dP[i], dColX[6], y, 12.5));
});
arrow(563, 497, 920, '#222', 1.2, 3.5).forEach(e => g.push(e));
arrow(571, 621, 920, '#222', 1.2, 3.5).forEach(e => g.push(e));
g.push(T('Favors atezo', 523, 936, 12));
g.push(T('Favors doce', 608, 936, 12));

// ================= CHART =================
const chart = echarts.init(document.getElementById('chart'), null, {renderer: 'canvas', width: 640, height: 944});
chart.setOption({
  animation: false,
  backgroundColor: '#fff',
  textStyle: {fontFamily: SANS},
  grid: grids,
  xAxis: xAxes,
  yAxis: yAxes,
  legend: {data: kmNames.map((n, i) => ({name: n, icon: i % 2 ? iconDash : iconSolid})),
    orient: 'vertical', left: 345, top: 468.5, padding: 0, itemWidth: 20, itemHeight: 10, itemGap: 1.6,
    selectedMode: false, textStyle: {fontSize: 9.5, fontFamily: SANS, color: '#222'}},
  series: series,
  graphic: g
});
</script></body></html>
